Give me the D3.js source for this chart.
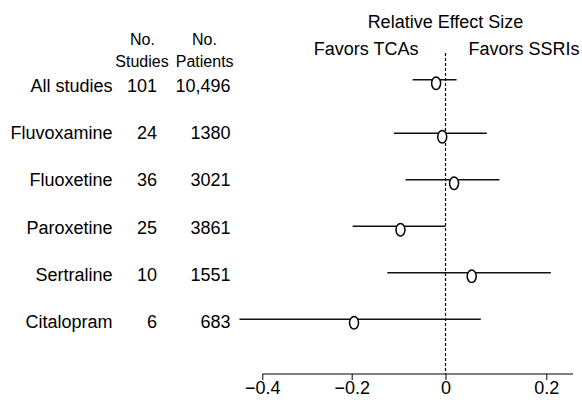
<!DOCTYPE html>
<html lang="en">
<head>
<meta charset="utf-8">
<title>Relative effect size: SSRIs vs TCAs</title>
<script src="https://cdn.jsdelivr.net/npm/d3@7"></script>
<style>
  body { margin: 0; background: #fff; }
  svg text {
      font-family: "Liberation Sans", Arial, Helvetica, sans-serif;
      font-size: 18px;
      fill: #000;
  }
  svg .colhead text { font-size: 16px; }
</style>
</head>
<body>
<script>

// Data
var drugs     = ["All studies", "Fluvoxamine", "Fluoxetine", "Paroxetine", "Sertraline", "Citalopram"];
var nStudies  = ["101", "24", "36", "25", "10", "6"];
var nPatients = ["10,496", "1380", "3021", "3861", "1551", "683"];
var effect    = [-0.020, -0.007,  0.017, -0.096,  0.052, -0.195];
var lower     = [-0.070, -0.110, -0.085, -0.198, -0.124, -0.451];
var upper     = [ 0.022,  0.082,  0.107,  0.000,  0.209,  0.070];
var tickValues = [-0.4, -0.2, 0, 0.2];
var axisEnd = 0.253;

var rows = drugs.map(function(d, i) {
    return { name: d, studies: nStudies[i], patients: nPatients[i],
             est: effect[i], lo: lower[i], hi: upper[i], i: i };
});

var w = 582, h = 404;
var axisY = 374;

var svg = d3.select("body").append("svg")
            .attr("width", w)
            .attr("height", h);

// x scale (the printed axis is not quite even, so map each tick)
var x = d3.scaleLinear()
          .domain(tickValues)
          .range([262.3, 351.7, 445.5, 546.3]);

// row positions: text rows and plot rows
var yText = d3.scalePoint().domain(drugs).range([92, 328]);
var yRow = d3.scaleLinear().domain([1, drugs.length - 1]).range([133.3, 319.3]);
function yLine(d) {
    // summary row sits a bit further above the drug rows
    return d.i === 0 ? yRow(-0.15) : yRow(d.i);
}

// Column headers
var head = svg.append("g").attr("class", "colhead").attr("text-anchor", "middle");
head.append("text").attr("x", 142.5).attr("y", 45).text("No.");
head.append("text").attr("x", 142).attr("y", 66.7).text("Studies");
head.append("text").attr("x", 204.5).attr("y", 45).text("No.");
head.append("text").attr("x", 204.7).attr("y", 66.7).text("Patients");

svg.append("text")
   .attr("x", x(0)).attr("y", 28.3)
   .attr("text-anchor", "middle")
   .text("Relative Effect Size");
svg.append("text")
   .attr("x", x(0) - 27).attr("y", 55)
   .attr("text-anchor", "end")
   .text("Favors TCAs");
svg.append("text")
   .attr("x", x(0) + 23).attr("y", 55)
   .text("Favors SSRIs");

// Table
var table = svg.append("g").attr("text-anchor", "end");
table.selectAll("text.name")
     .data(rows).enter().append("text")
     .attr("class", "name")
     .attr("x", 112.5)
     .attr("y", function(d) { return yText(d.name); })
     .text(function(d) { return d.name; });
table.selectAll("text.studies")
     .data(rows).enter().append("text")
     .attr("class", "studies")
     .attr("x", 157)
     .attr("y", function(d) { return yText(d.name); })
     .text(function(d) { return d.studies; });
table.selectAll("text.patients")
     .data(rows).enter().append("text")
     .attr("class", "patients")
     .attr("x", 230.5)
     .attr("y", function(d) { return yText(d.name); })
     .text(function(d) { return d.patients; });

// Reference line at 0
svg.append("line")
   .attr("x1", x(0)).attr("x2", x(0))
   .attr("y1", 53).attr("y2", axisY)
   .attr("stroke", "#000")
   .attr("stroke-width", 1.2)
   .attr("stroke-dasharray", "3,2");

// Confidence intervals
svg.append("g").selectAll("line")
   .data(rows).enter().append("line")
   .attr("x1", function(d) { return x(d.lo); })
   .attr("x2", function(d) { return x(d.hi); })
   .attr("y1", yLine)
   .attr("y2", yLine)
   .attr("stroke", "#111")
   .attr("stroke-width", 1.5);

// Point estimates
svg.append("g").selectAll("ellipse")
   .data(rows).enter().append("ellipse")
   .attr("cx", function(d) { return x(d.est); })
   .attr("cy", function(d) { return yLine(d) + 3.5; })
   .attr("rx", 4.5)
   .attr("ry", 6.3)
   .attr("fill", "#fff")
   .attr("stroke", "#000")
   .attr("stroke-width", 1.5);

// X axis
var xAxis = d3.axisBottom(x)
              .tickValues(tickValues)
              .tickSize(6)
              .tickPadding(1)
              .tickFormat(function(d) { return d === 0 ? "0" : d3.format(".1f")(d); });

var gx = svg.append("g")
            .attr("transform", "translate(0," + axisY + ")")
            .call(xAxis);
gx.select(".domain").remove();
gx.selectAll(".tick line").attr("stroke", "#000");
gx.append("line")
  .attr("x1", x(tickValues[0])).attr("x2", x(axisEnd))
  .attr("stroke", "#000")
  .attr("stroke-width", 1);

</script>
</body>
</html>
